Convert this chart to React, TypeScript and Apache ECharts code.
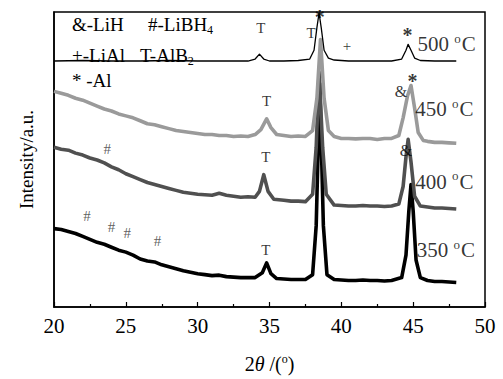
import React, { useEffect, useRef } from "react";
import * as echarts from "echarts";

const FONT = '"Liberation Serif", "Times New Roman", serif';

// Intensity (a.u., stacked with offsets) vs 2θ
const x500 = [20, 22, 24, 26, 28, 30, 32, 33.5, 34.0, 34.3, 34.6, 35, 36, 37, 37.8, 38.1, 38.3, 38.45, 38.6, 38.8, 39.1, 39.5, 40.5, 42, 43.5, 44.2, 44.5, 44.65, 44.85, 45.1, 45.5, 46.5, 48];
const y500 = [251, 251.5, 251, 251, 251.5, 251, 251, 251, 253, 258, 253, 251, 251, 251.5, 253, 262, 285, 300, 285, 262, 254, 252, 251, 251, 251, 253, 262, 268, 262, 254, 251.5, 251, 251];

const x450 = [20, 20.5, 21, 21.5, 22, 22.5, 23, 23.5, 24, 24.5, 25, 25.5, 26, 26.5, 27, 27.5, 28, 28.5, 29, 29.5, 30, 30.5, 31, 31.5, 32, 32.5, 33, 33.5, 34, 34.4, 34.8, 35.1, 35.5, 36, 36.5, 37, 37.5, 38.0, 38.3, 38.55, 38.8, 39.1, 39.5, 40, 40.5, 41, 41.5, 42, 42.5, 43, 43.5, 44.0, 44.3, 44.6, 44.85, 45.1, 45.35, 45.7, 46, 46.5, 47, 47.5, 48];
const y450 = [220, 218, 216, 213, 211, 208, 205, 202, 200, 197, 195, 193, 190, 187, 186, 184, 182, 180, 179, 178, 177, 176, 176, 175, 175, 174, 174.5, 174, 176, 181, 192, 183, 176, 175, 174, 174.5, 174, 180, 213, 273, 213, 180, 174, 172, 172, 171.5, 172, 172, 171, 172, 172, 175, 193, 215, 226, 203, 178, 170, 169, 168, 168, 167.5, 167];

const x400 = [20, 20.5, 21, 21.5, 22, 22.5, 23, 23.5, 24, 24.5, 25, 25.5, 26, 26.5, 27, 27.5, 28, 28.5, 29, 29.5, 30, 30.5, 31, 31.5, 32, 32.5, 33, 33.5, 34, 34.3, 34.6, 34.9, 35.3, 36, 36.5, 37, 37.5, 38.0, 38.25, 38.45, 38.7, 38.95, 39.5, 40, 40.5, 41, 41.5, 42, 42.5, 43, 43.5, 44.0, 44.3, 44.5, 44.65, 44.85, 45.1, 45.5, 46, 46.5, 47, 47.5, 48];
const y400 = [163, 161, 160, 157, 155, 152, 150, 147, 143, 140, 136, 133, 130, 127, 125, 123, 121, 119, 117, 116, 115, 114.5, 114, 116, 114, 113, 112, 112.5, 112, 118, 135, 118, 110, 109, 108, 108, 107.5, 115, 163, 240, 163, 115, 104, 103.5, 103, 103, 103.5, 103, 103, 102.5, 103, 105, 123, 153, 171, 148, 113, 103, 102, 101, 101, 100.5, 100];

const x350 = [20, 20.5, 21, 21.5, 22, 22.5, 23, 23.5, 24, 24.5, 25, 25.5, 26, 26.5, 27, 27.5, 28, 28.5, 29, 29.5, 30, 30.5, 31, 31.5, 32, 32.5, 33, 33.5, 34, 34.5, 34.8, 35.1, 35.5, 36, 36.5, 37, 37.5, 38.0, 38.25, 38.5, 38.75, 39.0, 39.5, 40, 40.5, 41, 41.5, 42, 42.5, 43, 43.5, 44.2, 44.5, 44.7, 44.85, 45.0, 45.2, 45.5, 46, 46.5, 47, 47.5, 48];
const y350 = [80, 79, 77, 75, 72, 69, 66, 64, 61, 58, 56, 53, 49, 47, 46, 43, 41, 39, 37, 35.5, 34, 33, 32, 32.5, 31, 30.5, 30, 30, 30, 35, 45, 34, 29, 28.5, 28, 28, 28, 33, 83, 228, 83, 33, 28, 27.5, 27, 27, 27.5, 27, 27, 26.5, 27, 30, 53, 98, 125, 98, 48, 30, 27, 26, 26, 25.5, 25];

// Peak assignment markers
const markX = [34.4, 37.9, 38.5, 40.4, 44.6, 34.8, 44.15, 44.95, 34.75, 44.5, 23.7, 34.75, 22.3, 24.0, 25.1, 27.2];
const markY = [285, 280, 296, 266, 278, 210, 220, 231, 153, 160, 161, 58, 93, 82, 76, 67];
const markText = ["T", "T", "*", "+", "*", "T", "&", "*", "T", "&", "#", "T", "#", "#", "#", "#"];

// Temperature labels
const tempLabels = ["500", "450", "400", "350"];
const tempX = [45.3, 45.15, 45.15, 45.25];
const tempY = [268, 202, 128, 58];

export default function App() {
  const ref = useRef<HTMLDivElement>(null);
  useEffect(() => {
    if (!ref.current) return;
    const chart = echarts.init(ref.current, null, { renderer: "svg" });
    const pairs = (xs: number[], ys: number[]) => xs.map((x, i) => [x, ys[i]]);
    const lineSeries = (name: string, xs: number[], ys: number[], color: string, width: number) => ({
      name,
      type: "line",
      data: pairs(xs, ys),
      showSymbol: false,
      symbol: "none",
      lineStyle: { color, width, join: "round" },
      z: 2,
    });
    const markFont = (t: string) => (t === "*" ? 20 : t === "&" ? 16 : 15);
    chart.setOption({
      animation: false,
      grid: {
        left: 54, right: 18, top: 12, bottom: 66,
        show: true, borderColor: "#000", borderWidth: 1.5, backgroundColor: "transparent",
      },
      xAxis: {
        type: "value",
        min: 20, max: 50, interval: 5,
        axisLine: { show: true, onZero: false, lineStyle: { color: "#000", width: 1.5 } },
        axisTick: { show: true, inside: true, length: 5, lineStyle: { color: "#000", width: 1.2 } },
        minorTick: { show: true, splitNumber: 2, length: 3, lineStyle: { color: "#000", width: 1.2 } },
        splitLine: { show: false },
        axisLabel: { color: "#000", fontFamily: FONT, fontSize: 21, margin: 8 },
        name: "{n|2}{i|θ}{n| /(}{s|o}{n|)}",
        nameLocation: "middle",
        nameGap: 46,
        nameTextStyle: {
          rich: {
            n: { fontFamily: FONT, fontSize: 20, color: "#000" },
            i: { fontFamily: FONT, fontSize: 20, fontStyle: "italic", color: "#000" },
            s: { fontFamily: FONT, fontSize: 12, color: "#000", padding: [0, 0, 10, 0] },
          },
        },
      },
      yAxis: {
        type: "value",
        min: 0, max: 301,
        axisLine: { show: true, lineStyle: { color: "#000", width: 1.5 } },
        axisTick: { show: false },
        axisLabel: { show: false },
        splitLine: { show: false },
        name: "Intensity/a.u.",
        nameLocation: "middle",
        nameRotate: 90,
        nameGap: 18,
        nameTextStyle: { fontFamily: FONT, fontSize: 19, color: "#000" },
      },
      series: [
        lineSeries("350", x350, y350, "#000000", 3.6),
        lineSeries("400", x400, y400, "#505050", 3.6),
        lineSeries("450", x450, y450, "#9a9a9a", 3.6),
        lineSeries("500", x500, y500, "#000000", 1.3),
        {
          type: "scatter",
          symbolSize: 0,
          z: 5,
          itemStyle: { color: "#000" },
          data: markX.map((x, i) => ({
            value: [x, markY[i]],
            label: {
              show: true,
              position: "inside",
              formatter: markText[i],
              fontFamily: FONT,
              fontSize: markFont(markText[i]),
              fontWeight: markText[i] === "*" ? "bold" : "normal",
              color: markText[i] === "#" ? "#333" : "#000",
              textBorderWidth: 0,
              textBorderColor: "transparent",
            },
          })),
        },
        {
          type: "scatter",
          symbolSize: 0,
          z: 5,
          itemStyle: { color: "#000" },
          data: tempX.map((x, i) => ({
            value: [x, tempY[i]],
            label: {
              show: true,
              position: "right",
              distance: 0,
              formatter: `{a|${tempLabels[i]} }{s|o}{a|C}`,
              rich: {
                a: { fontFamily: FONT, fontSize: 21, color: "#000" },
                s: { fontFamily: FONT, fontSize: 13, color: "#000", padding: [0, 1, 12, 0] },
              },
            },
          })),
        },
      ],
      graphic: [
        { type: "text", left: 72, top: 15, style: { text: "&-LiH", font: `19px ${FONT}`, fill: "#000" } },
        {
          type: "text", left: 148, top: 15,
          style: {
            text: "{a|#-LiBH}{b|4}",
            rich: {
              a: { fontFamily: FONT, fontSize: 19, fill: "#000" },
              b: { fontFamily: FONT, fontSize: 12, fill: "#000", padding: [10, 0, 0, 0] },
            },
          },
        },
        { type: "text", left: 72, top: 46, style: { text: "+-LiAl", font: `19px ${FONT}`, fill: "#000" } },
        {
          type: "text", left: 140, top: 46,
          style: {
            text: "{a|T-AlB}{b|2}",
            rich: {
              a: { fontFamily: FONT, fontSize: 19, fill: "#000" },
              b: { fontFamily: FONT, fontSize: 12, fill: "#000", padding: [10, 0, 0, 0] },
            },
          },
        },
        { type: "text", left: 72, top: 71, style: { text: "* -Al", font: `19px ${FONT}`, fill: "#000" } },
      ],
    });
    return () => chart.dispose();
  }, []);
  return <div ref={ref} style={{ width: 503, height: 379, position: "absolute", left: 0, top: 0 }} />;
}
